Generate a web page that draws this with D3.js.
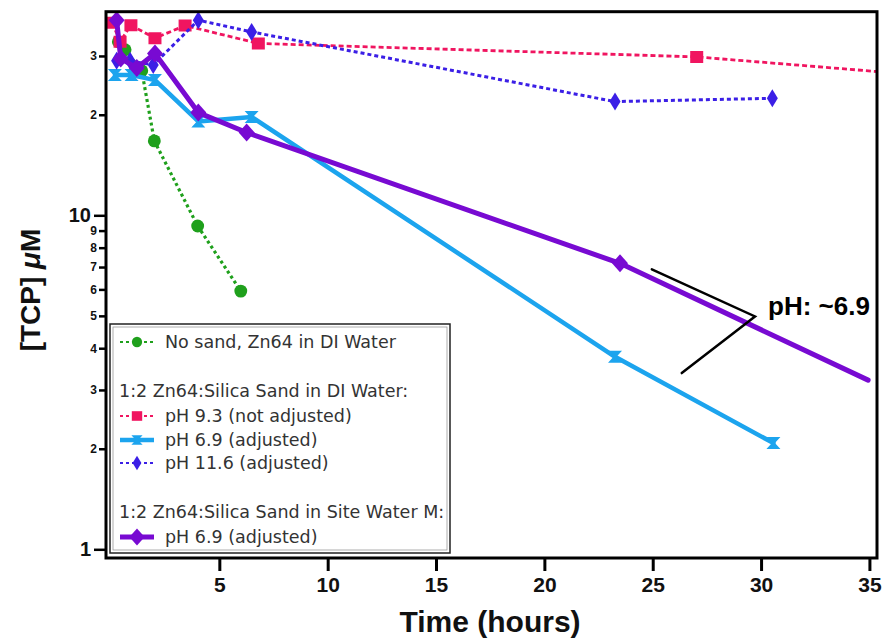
<!DOCTYPE html>
<html><head><meta charset="utf-8">
<script src="https://cdn.jsdelivr.net/npm/d3@7"></script>
<style>body{margin:0;background:#fff}</style>
</head><body><svg id="c" width="886" height="639"></svg>
<script>
// ---- data ----
const xTicks = [5, 10, 15, 20, 25, 30, 35];
const yTicks = [1, 2, 3, 4, 5, 6, 7, 8, 9, 10, 20, 30];

const greenTime = [0.34, 0.65, 1.42, 2.0, 4.0, 5.99];
const greenTCP  = [33.1, 31.3, 27.1, 16.7, 9.29, 5.93];

const pinkTime = [0.06, 0.42, 0.92, 2.03, 3.42, 6.8, 27.03, 47];
const pinkTCP  = [37.7, 33.1, 37.1, 33.9, 37.0, 32.7, 29.8, 23.4];

const lblueTime = [0.18, 0.95, 2.03, 4.03, 6.49, 23.26, 30.57];
const lblueTCP  = [26.3, 26.3, 25.4, 19.1, 19.7, 3.77, 2.08];

const blueTime = [0.26, 0.88, 1.95, 4.03, 6.49, 23.26, 30.52];
const blueTCP  = [29.0, 29.0, 28.2, 38.4, 35.4, 21.9, 22.4];

const purpleTime = [0.26, 0.45, 1.19, 2.03, 4.03, 6.26, 23.49];
const purpleTCP  = [38.4, 29.5, 27.6, 30.5, 20.3, 17.7, 7.18];
const purpleTrendTime = [23.49, 34.94];
const purpleTrendTCP  = [7.18, 3.21];

const annotTime = [24.96, 29.72, 26.34];
const annotTCP  = [6.89, 4.98, 3.37];
const annotLabel = "pH: ~6.9";
const annotLabelAt = [30.32, 5.03];

const legendLabels = ["No sand, Zn64 in DI Water", "1:2 Zn64:Silica Sand in DI Water:", "pH 9.3 (not adjusted)",
  "pH 6.9 (adjusted)", "pH 11.6 (adjusted)", "1:2 Zn64:Silica Sand in Site Water M:", "pH 6.9 (adjusted)"];

// ---- setup ----
const svg = d3.select("#c");
const L = 106, R = 877, T = 11.7, B = 558;
const x = d3.scaleLinear().domain([-0.23, 35.35]).range([L, R]);
const y = d3.scaleLog().domain([0.9418, 40.7]).range([B, T]);

svg.append("defs").append("clipPath").attr("id", "clip")
  .append("rect").attr("x", L).attr("y", T).attr("width", R - L).attr("height", B - T);

const styles = {
  green:  {color: "#1fa01c", width: 3.2, dash: "3,3", marker: "circle"},
  pink:   {color: "#f01560", width: 2.8, dash: "5,3", marker: "square"},
  lblue:  {color: "#1ca4ee", width: 4.5, dash: null, marker: "hourglass"},
  blue:   {color: "#3b1fe6", width: 3.0, dash: "4,3", marker: "thinDiamond"},
  purple: {color: "#780ad2", width: 5.0, dash: null, marker: "diamond"}
};

function markerPath(type, s) {
  s = s || 1;
  switch (type) {
    case "circle": return d3.symbol(d3.symbolCircle, 130 * s * s)();
    case "square": return `M${-6.5*s},${-6*s}H${6.5*s}V${6*s}H${-6.5*s}Z`;
    case "hourglass": return `M${-7*s},${-6*s}L${7*s},${-6*s}L${1.5*s},0L${7*s},${6*s}L${-7*s},${6*s}L${-1.5*s},0Z`;
    case "thinDiamond": return `M0,${-9*s}L${5.5*s},0L0,${9*s}L${-5.5*s},0Z`;
    case "diamond": return `M0,${-9*s}L${8*s},0L0,${9*s}L${-8*s},0Z`;
  }
}

const plot = svg.append("g").attr("clip-path", "url(#clip)");
const line = d3.line().x(d => x(d[0])).y(d => y(d[1]));

function drawSeries(times, vals, st, withMarkers) {
  const pts = times.map((t, i) => [t, vals[i]]);
  const p = plot.append("path").datum(pts).attr("d", line)
    .attr("fill", "none").attr("stroke", st.color).attr("stroke-width", st.width)
    .attr("stroke-linejoin", "round").attr("stroke-linecap", st.dash ? "butt" : "round");
  if (st.dash) p.attr("stroke-dasharray", st.dash);
  if (withMarkers) {
    plot.append("g").selectAll("path").data(pts).join("path")
      .attr("transform", d => `translate(${x(d[0])},${y(d[1])})`)
      .attr("d", markerPath(st.marker)).attr("fill", st.color);
  }
}

// ---- frame & axes ----
const xAxis = d3.axisBottom(x).tickValues(xTicks).tickSize(13).tickPadding(6).tickFormat(d3.format("d"));
const gx = svg.append("g").attr("transform", `translate(0,${B})`).call(xAxis);
gx.select(".domain").remove();
gx.selectAll("line").attr("stroke", "#000").attr("stroke-width", 3);
gx.selectAll("text").attr("font-family", "Liberation Sans, Arial, sans-serif").attr("font-weight", "bold")
  .attr("font-size", 21).attr("fill", "#111");

const yAxis = d3.axisLeft(y).tickValues(yTicks).tickFormat(d => (d === 1 || d === 10) ? String(d) : String(d).charAt(0));
const gy = svg.append("g").attr("transform", `translate(${L},0)`).call(yAxis);
gy.select(".domain").remove();
gy.selectAll(".tick").each(function(d) {
  const major = (d === 1 || d === 10);
  const g = d3.select(this);
  g.select("line").attr("x2", major ? -12 : -7).attr("stroke", "#000").attr("stroke-width", 2.5);
  g.select("text").attr("x", major ? -15 : -9)
    .attr("font-family", "Liberation Sans, Arial, sans-serif").attr("font-weight", "bold")
    .attr("font-size", major ? 20 : 12).attr("fill", "#111");
});

// ---- series ----
drawSeries(greenTime, greenTCP, styles.green, true);
drawSeries(pinkTime, pinkTCP, styles.pink, true);
drawSeries(lblueTime, lblueTCP, styles.lblue, true);
drawSeries(blueTime, blueTCP, styles.blue, true);
drawSeries(purpleTrendTime, purpleTrendTCP, styles.purple, false);
drawSeries(purpleTime, purpleTCP, styles.purple, true);

// frame
svg.append("rect").attr("x", L).attr("y", T).attr("width", R - L).attr("height", B - T)
  .attr("fill", "none").attr("stroke", "#000").attr("stroke-width", 3);

// ---- annotation ----
svg.append("path").datum(annotTime.map((t, i) => [t, annotTCP[i]])).attr("d", line)
  .attr("fill", "none").attr("stroke", "#000").attr("stroke-width", 2.5).attr("stroke-linecap", "round");
svg.append("text").attr("x", x(annotLabelAt[0])).attr("y", y(annotLabelAt[1]))
  .attr("font-family", "Liberation Sans, Arial, sans-serif").attr("font-weight", "bold")
  .attr("font-size", 26).attr("fill", "#000").text(annotLabel);

// ---- legend ----
const lg = svg.append("g");
lg.append("rect").attr("x", 110).attr("y", 324).attr("width", 340).attr("height", 229)
  .attr("fill", "#fff").attr("stroke", "#222").attr("stroke-width", 1.5);
lg.append("rect").attr("x", 113).attr("y", 327).attr("width", 334).attr("height", 223)
  .attr("fill", "none").attr("stroke", "#999").attr("stroke-width", 0.8);
const legRows = [
  {label: legendLabels[0], y: 342, st: styles.green},
  {label: legendLabels[1], y: 391, st: null},
  {label: legendLabels[2], y: 416, st: styles.pink},
  {label: legendLabels[3], y: 440, st: styles.lblue},
  {label: legendLabels[4], y: 463, st: styles.blue},
  {label: legendLabels[5], y: 512, st: null},
  {label: legendLabels[6], y: 537, st: styles.purple}
];
legRows.forEach(r => {
  if (r.st) {
    const w = r.st.dash ? Math.min(r.st.width, 2) : r.st.width;
    const ln = lg.append("line").attr("x1", 120).attr("x2", 154).attr("y1", r.y).attr("y2", r.y)
      .attr("stroke", r.st.color).attr("stroke-width", w);
    if (r.st.dash) ln.attr("stroke-dasharray", "3,3");
    lg.append("path").attr("transform", `translate(137,${r.y})`)
      .attr("d", markerPath(r.st.marker, r.st.marker === "diamond" ? 0.95 : 0.8)).attr("fill", r.st.color);
  }
  lg.append("text").attr("x", r.st ? 165 : 119).attr("y", r.y).attr("dy", "0.36em")
    .attr("font-family", "DejaVu Sans, Verdana, sans-serif").attr("font-size", 17.5)
    .attr("fill", "#333").text(r.label);
});

// ---- axis titles ----
svg.append("text").attr("x", 490).attr("y", 632).attr("text-anchor", "middle")
  .attr("font-family", "Liberation Sans, Arial, sans-serif").attr("font-weight", "bold")
  .attr("font-size", 30).attr("fill", "#111").text("Time (hours)");
const yt = svg.append("text").attr("transform", "translate(40,290) rotate(-90)").attr("text-anchor", "middle")
  .attr("font-family", "Liberation Sans, Arial, sans-serif").attr("font-weight", "bold")
  .attr("font-size", 28).attr("fill", "#111");
yt.append("tspan").text("[TCP] ");
yt.append("tspan").attr("font-style", "italic").text("μ");
yt.append("tspan").text("M");
</script>
</body></html>
